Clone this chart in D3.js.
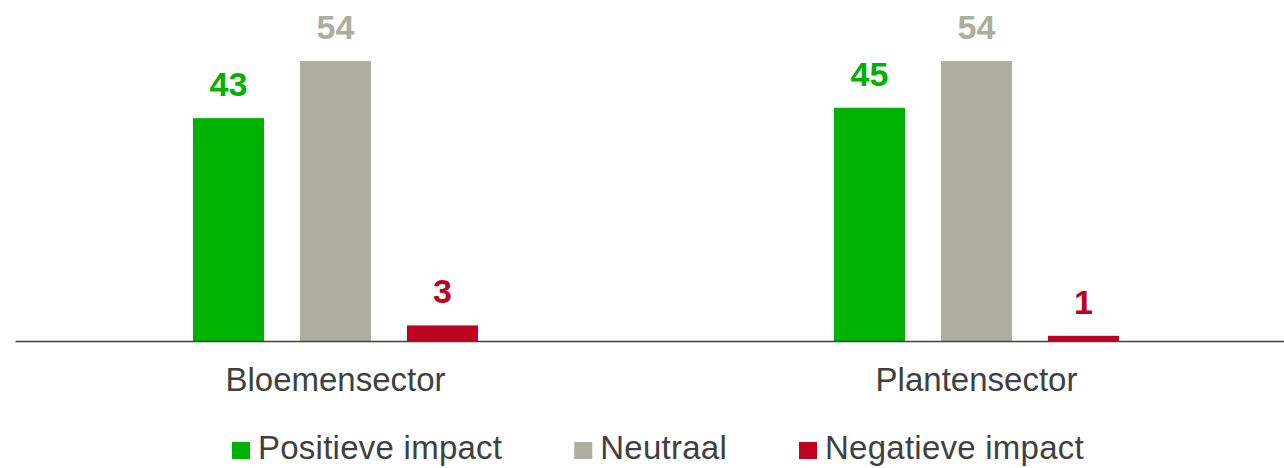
<!DOCTYPE html>
<html>
<head>
<meta charset="utf-8">
<script src="https://cdn.jsdelivr.net/npm/d3@7"></script>
<style>
  html, body { margin: 0; padding: 0; background: #fff; }
  svg { display: block; font-family: "Liberation Sans", Arial, sans-serif; }
</style>
</head>
<body>
<svg id="chart"></svg>
<script>
// data
const categories = ['Bloemensector', 'Plantensector'];
const seriesNames = ['Positieve impact', 'Neutraal', 'Negatieve impact'];
const positief = [43, 45];
const neutraal = [54, 54];
const negatief = [3, 1];
const seriesColors = ['#00B200', '#ADAE9E', '#C00020'];

const width = 1284, height = 468;
const svg = d3.select('#chart')
    .attr('width', width)
    .attr('height', height);

const values = [positief, neutraal, negatief];
const rows = [];
categories.forEach((cat, ci) => {
    seriesNames.forEach((s, si) => {
        rows.push({ cat: cat, series: s, value: values[si][ci], color: seriesColors[si] });
    });
});

const x0 = d3.scaleBand()
    .domain(categories)
    .range([15, 1297])
    .padding(0);

const x1 = d3.scaleBand()
    .domain(seriesNames)
    .range([160, 481])
    .paddingInner(0.336)
    .paddingOuter(0.168);

const y = d3.scaleLinear()
    .domain([0, 60])
    .range([341, 30]);

// bars
svg.append('g')
    .selectAll('rect')
    .data(rows)
    .enter()
    .append('rect')
    .attr('x', d => x0(d.cat) + x1(d.series))
    .attr('y', d => y(d.value))
    .attr('width', x1.bandwidth())
    .attr('height', d => y(0) - y(d.value))
    .style('fill', d => d.color);

// value labels
svg.append('g')
    .selectAll('text')
    .data(rows)
    .enter()
    .append('text')
    .attr('x', d => x0(d.cat) + x1(d.series) + x1.bandwidth() / 2)
    .attr('y', d => y(d.value) - 22)
    .attr('text-anchor', 'middle')
    .style('font-size', '34px')
    .style('font-weight', 'bold')
    .style('fill', d => d.color)
    .text(d => d.value);

// axis
const axis = svg.append('g')
    .attr('transform', `translate(0,${y(0)})`)
    .call(d3.axisBottom(x0).tickSize(0).tickSizeOuter(0));

axis.select('.domain')
    .attr('stroke', '#404040')
    .attr('stroke-width', 1.5);

axis.selectAll('text')
    .attr('y', 50)
    .attr('dy', null)
    .attr('font-family', null)
    .style('font-size', '33px')
    .style('fill', '#404040');

// legend
const legend = svg.append('g')
    .attr('transform', 'translate(232,442)');

let lx = 0;
seriesNames.forEach((s, i) => {
    const item = legend.append('g').attr('transform', `translate(${lx},0)`);
    item.append('rect')
        .attr('width', 18)
        .attr('height', 17)
        .style('fill', seriesColors[i]);
    const t = item.append('text')
        .attr('x', 26)
        .attr('y', 17)
        .style('font-size', '33px')
        .style('letter-spacing', '0.25px')
        .style('fill', '#404040')
        .text(s);
    lx += 26 + t.node().getComputedTextLength() + 72;
});
</script>
</body>
</html>
